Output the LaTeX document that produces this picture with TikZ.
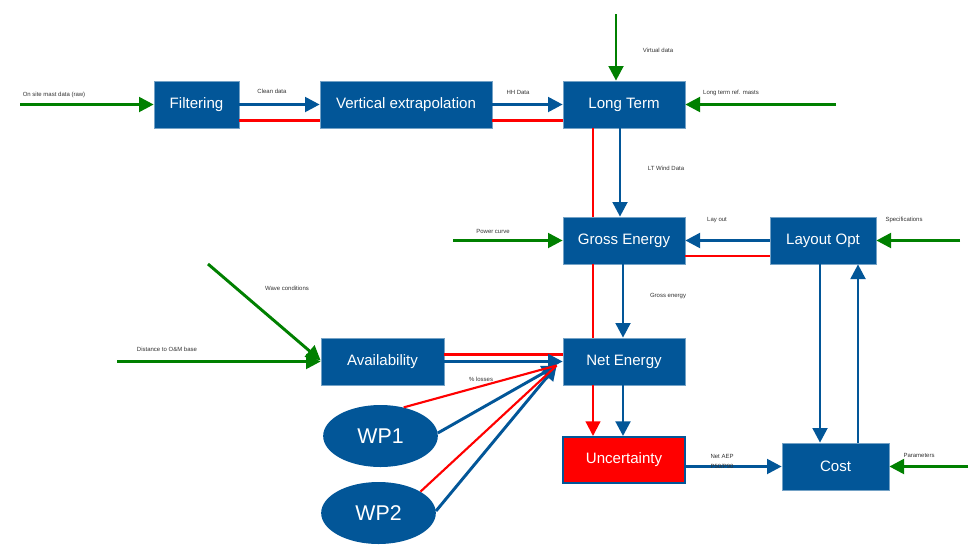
\documentclass[tikz,border=0pt]{standalone}
\usepackage{fontspec}
\setmainfont{Liberation Sans}
\usetikzlibrary{arrows.meta,calc,shapes.geometric}
\definecolor{procblue}{RGB}{2,86,152}
\definecolor{flowgreen}{RGB}{0,128,0}
\definecolor{feedred}{RGB}{255,0,0}
\begin{document}
\begin{tikzpicture}[x=0.75pt,y=-0.75pt,
  proc/.style={rectangle, fill=procblue, draw=procblue!55!white, line width=0.5pt,
    text=white, font=\fontsize{11.3}{13}\selectfont, minimum height=35.25pt, inner sep=0pt},
  wp/.style={ellipse, fill=procblue, text=white, font=\fontsize{16}{19}\selectfont,
    minimum width=86pt, minimum height=46.5pt, inner sep=0pt},
  bigtip/.style={-{Triangle[length=11pt,width=11pt]}},
  inflow/.style={draw=flowgreen, line width=2.2pt, bigtip},
  flow/.style={draw=procblue, line width=2.2pt, bigtip},
  link/.style={draw=feedred, line width=1.6pt},
  lbl/.style={font=\fontsize{4.5}{5}\selectfont, text=black!80, inner sep=0pt}
]
\useasboundingbox[fill=white] (0,0) rectangle (974,550);

% process boxes
\node[proc, minimum width=63.75pt] (filt) at (196.5,104.5) {Filtering};
\node[proc, minimum width=129pt]   (vext) at (406,104.5) {Vertical extrapolation};
\node[proc, minimum width=91.5pt]  (lt)   at (624,104.5) {Long Term};
\node[proc, minimum width=91.5pt]  (ge)   at (624,240.5) {Gross Energy};
\node[proc, minimum width=79.5pt]  (lo)   at (823,240.5) {Layout Opt};
\node[proc, minimum width=92.25pt] (avail) at (382.5,361.5) {Availability};
\node[proc, minimum width=91.5pt]  (ne)   at (624,361.5) {Net Energy};
\node[proc, minimum width=91.5pt, minimum height=34.5pt, fill=feedred, draw=procblue, line width=1.5pt]
  (unc) at (624,460) {Uncertainty};
\node[proc, minimum width=80.25pt] (cost) at (835.5,466.5) {Cost};
\node[wp] (wp1) at (380.5,436) {WP1};
\node[wp] (wp2) at (378.5,513) {WP2};

% free ends of the external inputs
\coordinate (in-raw)   at (20,104.5);
\coordinate (in-virt)  at (616,14);
\coordinate (in-ltref) at (836,104.5);
\coordinate (in-pc)    at (453,240.5);
\coordinate (in-spec)  at (960,240.5);
\coordinate (in-par)   at (968,466.5);
\coordinate (in-dist)  at (117,361.5);
\coordinate (in-wave)  at (208,264);
\coordinate (hub)      at ($(ne.west)+(-6,4)$);

% uncertainty (red) chain
\draw[link] ($(filt.east)+(0,16)$) -- ($(vext.west)+(0,16)$);
\draw[link] ($(vext.east)+(0,16)$) -- ($(lt.west)+(0,16)$);
\draw[link] ($(lt.south)+(-31,0)$) -- ($(ge.north)+(-31,0)$);
\draw[link] ($(ge.south)+(-31,0)$) -- ($(ne.north)+(-31,0)$);
\draw[link, bigtip] ($(ne.south)+(-31,0)$) -- ($(unc.north)+(-31,0)$);
\draw[link] ($(ge.east)+(0,15.5)$) -- ($(lo.west)+(0,15.5)$);
\draw[link] ($(avail.east)+(0,-7)$) -- ($(ne.west)+(0,-7)$);

% main data flow
\draw[flow] (filt) -- (vext);
\draw[flow] (vext) -- (lt);
\draw[flow] ($(lt.south)+(-4,0)$) -- ($(ge.north)+(-4,0)$);
\draw[flow] (lo) -- (ge);
\draw[flow] ($(ge.south)+(-1,0)$) -- ($(ne.north)+(-1,0)$);
\draw[flow] (avail) -- (ne);
\draw[flow] ($(ne.south)+(-1,0)$) -- ($(unc.north)+(-1,0)$);
\draw[flow] ($(lo.south)+(-3,0)$) -- ($(cost.north)+(-15.5,0)$);
\draw[flow] ($(cost.north)+(22.5,0)$) -- ($(lo.south)+(35,0)$);
\draw[flow] ($(unc.east)+(0,6.5)$) -- (cost.west);
\draw[flow] (wp1.3) -- (hub);
\draw[flow] (wp2.2) -- (hub);
\draw[link] (wp1.51) -- (hub);
\draw[link] (wp2.27) -- (hub);

% external inputs
\draw[inflow] (in-raw) -- (filt.west);
\draw[inflow] (in-virt) -- (in-virt |- lt.north);
\draw[inflow] (in-ltref) -- (lt.east);
\draw[inflow] (in-pc) -- (ge.west);
\draw[inflow] (in-spec) -- (lo.east);
\draw[inflow] (in-par) -- (cost.east);
\draw[inflow] (in-dist) -- (avail.west);
\draw[inflow] (in-wave) -- ($(avail.west)+(0,-1)$);

% connector labels
\node[lbl] (l-raw)   at (54,95)   {On site mast data (raw)};
\node[lbl] (l-clean) at (272,91)  {Clean data};
\node[lbl] (l-hh)    at (518,92)  {HH Data};
\node[lbl] (l-virt)  at (658,50)  {Virtual data};
\node[lbl] (l-ltref) at (731,93)  {Long term ref. masts};
\node[lbl] (l-ltwd)  at (666,168) {LT Wind Data};
\node[lbl] (l-pc)    at (493,231) {Power curve};
\node[lbl] (l-lay)   at (717,220) {Lay out};
\node[lbl] (l-spec)  at (904,220) {Specifications};
\node[lbl] (l-gross) at (668,296) {Gross energy};
\node[lbl] (l-wave)  at (287,288) {Wave conditions};
\node[lbl] (l-dist)  at (167,349) {Distance to O\&M base};
\node[lbl] (l-loss)  at (481,379) {\% losses};
\node[lbl] (l-aep)   at (722,456) {Net AEP};
\node[lbl] (l-pxx)   at (722,466) {P50/P90};
\node[lbl] (l-par)   at (919,455) {Parameters};
\end{tikzpicture}
\end{document}
